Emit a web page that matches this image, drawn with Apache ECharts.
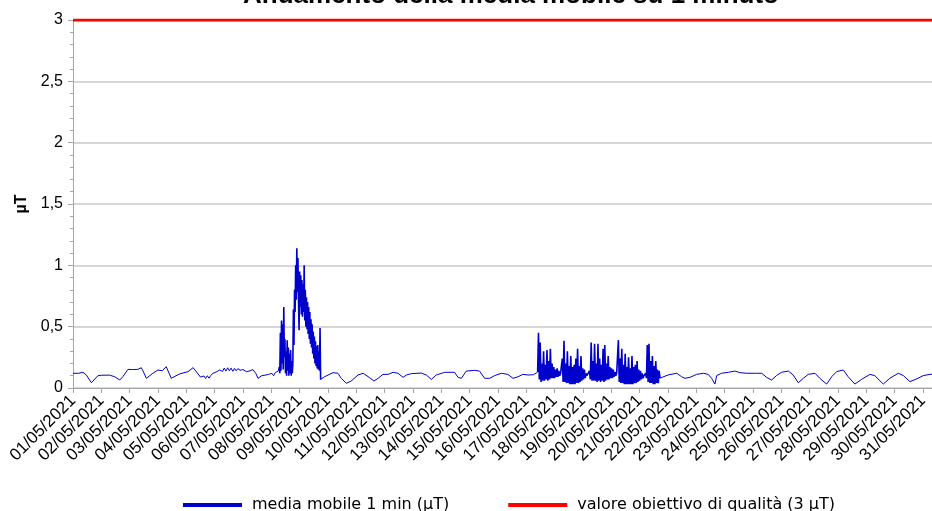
<!DOCTYPE html>
<html>
<head>
<meta charset="utf-8">
<script src="https://cdn.jsdelivr.net/npm/echarts@6/dist/echarts.min.js"></script>
<style>html,body{margin:0;padding:0;background:#fff}#c{width:932px;height:511px}</style>
</head>
<body>
<div id="c"></div>
<script>
// ---- data (days since 01/05/2021 00:00, values in µT) ----
const titleText = 'Andamento della media mobile su 1 minuto';
const seriesNames = ['media mobile 1 min (µT)', 'valore obiettivo di qualità (3 µT)'];
const dayLabels = ['01/05/2021','02/05/2021','03/05/2021','04/05/2021','05/05/2021','06/05/2021','07/05/2021','08/05/2021','09/05/2021','10/05/2021','11/05/2021','12/05/2021','13/05/2021','14/05/2021','15/05/2021','16/05/2021','17/05/2021','18/05/2021','19/05/2021','20/05/2021','21/05/2021','22/05/2021','23/05/2021','24/05/2021','25/05/2021','26/05/2021','27/05/2021','28/05/2021','29/05/2021','30/05/2021','31/05/2021'];
const yTickLabels = ['0','0,5','1','1,5','2','2,5','3'];
const qualityTarget = 3;
const visibleEndDay = 30.32;   // the picture is cut on the right during 31/05

const base1Days = [0,0.2,0.35,0.47,0.65,0.88,1.0,1.29,1.47,1.65,1.76,1.94,2.1,2.29,2.41,2.47,2.59,2.82,3.0,3.15,3.29,3.47,3.76,4.06,4.24,4.5,4.56,4.62,4.68,4.74,4.8,4.86,4.94,5.05,5.18,5.22,5.28,5.34,5.40,5.46,5.52,5.58,5.64,5.70,5.76,5.82,5.90,6.0,6.12,6.25,6.35,6.45,6.53,6.60,6.66,6.72,6.78,6.84,6.90,6.96,7.02,7.08,7.14,7.20,7.25];
const base1Vals = [0.12,0.12,0.128,0.106,0.043,0.10,0.104,0.105,0.092,0.065,0.092,0.152,0.15,0.152,0.165,0.14,0.079,0.12,0.147,0.14,0.174,0.079,0.115,0.133,0.166,0.089,0.075,0.098,0.078,0.10,0.08,0.102,0.12,0.13,0.147,0.16,0.135,0.163,0.138,0.165,0.14,0.162,0.136,0.16,0.14,0.158,0.145,0.15,0.133,0.14,0.15,0.12,0.079,0.085,0.10,0.085,0.105,0.09,0.11,0.095,0.12,0.10,0.125,0.11,0.14];

const burst1Start = 7.26, burst1Step = 0.02;
const burst1Vals = [0.14,0.17,0.12,0.45,0.14,0.55,0.20,0.52,0.15,0.66,0.25,0.40,0.12,0.30,0.10,0.39,0.14,0.33,0.10,0.28,0.12,0.31,0.10,0.22,0.12,0.20,0.64,0.35,0.80,0.62,1.00,0.72,1.14,0.78,1.06,0.70,0.47,0.95,0.66,0.92,0.60,0.88,0.58,0.85,0.62,1.00,0.55,0.80,0.50,0.74,0.48,0.70,0.44,0.66,0.40,0.62,0.36,0.56,0.33,0.52,0.28,0.46,0.24,0.42,0.20,0.38,0.18,0.34,0.16,0.35,0.15,0.30,0.14,0.49,0.07];

const base2Days = [8.74,8.88,9.18,9.35,9.47,9.65,9.82,10.06,10.24,10.47,10.62,10.77,10.94,11.12,11.30,11.47,11.65,11.77,11.94,12.29,12.47,12.65,12.82,13.12,13.47,13.59,13.71,13.88,14.18,14.35,14.53,14.71,14.88,15.12,15.35,15.53,15.71,15.88,16.06,16.25,16.37,16.40];
const base2Vals = [0.07,0.092,0.125,0.12,0.079,0.038,0.057,0.106,0.12,0.084,0.057,0.079,0.111,0.111,0.128,0.12,0.087,0.106,0.117,0.122,0.106,0.07,0.106,0.128,0.128,0.087,0.079,0.138,0.144,0.138,0.079,0.079,0.101,0.12,0.111,0.079,0.092,0.111,0.106,0.108,0.125,0.13];

const burst2Start = 16.40, burst2Step = 0.03;
const burst2Vals = [0.13,0.45,0.07,0.37,0.05,0.20,0.06,0.30,0.06,0.19,0.07,0.31,0.06,0.22,0.07,0.32,0.08,0.20,0.08,0.17,0.08,0.15,0.09,0.16,0.09,0.14,0.10,0.12,
  0.11,0.24,0.05,0.385,0.05,0.20,0.04,0.30,0.04,0.18,0.03,0.26,0.03,0.17,0.03,0.19,0.03,0.24,0.04,0.32,0.04,0.18,0.05,0.26,0.06,0.16,0.07,0.15,0.08,0.12,0.10,0.11,0.10,
  0.14,0.07,0.37,0.06,0.22,0.06,0.36,0.06,0.20,0.05,0.36,0.06,0.24,0.05,0.19,0.06,0.32,0.05,0.35,0.06,0.20,0.07,0.26,0.07,0.17,0.08,0.16,0.08,0.15,0.09,0.13,0.10,0.12,0.11,
  0.39,0.05,0.24,0.04,0.32,0.04,0.19,0.03,0.28,0.03,0.17,0.03,0.25,0.03,0.16,0.03,0.26,0.03,0.17,0.04,0.19,0.04,0.22,0.05,0.15,0.06,0.14,0.07,0.12,0.08,0.10,0.09,0.12,
  0.08,0.35,0.05,0.36,0.04,0.22,0.04,0.26,0.03,0.18,0.03,0.22,0.04,0.15,0.04,0.14,0.08];

const base3Days = [20.72,20.75,21.0,21.07,21.31,21.48,21.60,21.78,22.01,22.25,22.42,22.54,22.66,22.72,22.89,23.13,23.36,23.54,23.78,24.13,24.31,24.48,24.66,24.83,25.01,25.25,25.42,25.60,25.78,25.95,26.19,26.36,26.60,26.78,26.95,27.19,27.36,27.60,27.83,28.13,28.30,28.60,28.83,29.13,29.31,29.54,29.78,30.01,30.25,30.40];
const base3Vals = [0.08,0.08,0.106,0.111,0.12,0.092,0.079,0.087,0.111,0.12,0.111,0.079,0.032,0.101,0.12,0.128,0.138,0.125,0.12,0.12,0.12,0.087,0.065,0.101,0.128,0.138,0.106,0.043,0.079,0.111,0.12,0.079,0.032,0.092,0.133,0.147,0.092,0.032,0.07,0.111,0.101,0.032,0.079,0.12,0.101,0.052,0.074,0.101,0.111,0.115];

// ---- build series data ----
const pairs = (days, vals) => days.map((d, i) => [d, vals[i]]);
const stepPairs = (start, step, vals) => vals.map((v, i) => [+(start + i * step).toFixed(3), v]);
const baseData = [].concat(pairs(base1Days, base1Vals), [[burst1Start, burst1Vals[0]], null],
                           pairs(base2Days, base2Vals), [null],
                           pairs(base3Days, base3Vals));
const burstData = [].concat(stepPairs(burst1Start, burst1Step, burst1Vals), [null],
                            stepPairs(burst2Start, burst2Step, burst2Vals));
const redData = [[0, qualityTarget], [visibleEndDay, qualityTarget]];

const BLUE = '#0000CC', RED = '#FF0000';
const chart = echarts.init(document.getElementById('c'), null, {renderer:'canvas'});
chart.setOption({
  animation: false,
  backgroundColor: '#ffffff',
  graphic: [{
    type: 'text', x: 511, y: -17, z: 10,
    style: { text: titleText, font: 'bold 26px "Liberation Sans", Arial, sans-serif', fill: '#000',
             textAlign: 'center', align: 'center', textVerticalAlign: 'top', verticalAlign: 'top' }
  }],
  grid: { left: 73, right: 0, top: 20, bottom: 123, containLabel: false },
  legend: {
    left: 183, top: 497, padding: 0, itemWidth: 59, itemHeight: 4, itemGap: 59, icon: 'rect',
    textStyle: { fontFamily: '"DejaVu Sans", sans-serif', fontSize: 16, color: '#000', padding: [0,0,0,5] },
    data: seriesNames
  },
  xAxis: {
    type: 'value', min: 0, max: visibleEndDay, interval: 1,
    axisLine: { show: true, lineStyle: { color: '#a6a6a6', width: 1 } },
    axisTick: { show: true, inside: false, length: 5, lineStyle: { color: '#a6a6a6' } },
    splitLine: { show: false },
    axisLabel: {
      rotate: 45, margin: 10, color: '#000', fontSize: 17, fontFamily: '"Liberation Sans", Arial, sans-serif',
      showMaxLabel: false,
      formatter: v => (Number.isInteger(v) && v < dayLabels.length) ? dayLabels[v] : ''
    }
  },
  yAxis: {
    type: 'value', min: 0, max: 3, interval: 0.5,
    name: 'µT', nameLocation: 'middle', nameGap: 40, nameRotate: 90,
    nameTextStyle: { fontWeight: 'bold', fontSize: 16, color: '#000', fontFamily: '"Liberation Sans", Arial, sans-serif' },
    axisLine: { show: true, lineStyle: { color: '#a6a6a6', width: 1 } },
    axisTick: { show: true, inside: false, length: 5, lineStyle: { color: '#a6a6a6' } },
    minorTick: { show: true, splitNumber: 5, length: 3, lineStyle: { color: '#a6a6a6' } },
    splitLine: { show: true, lineStyle: { color: '#c8c8c8', width: 1.5 } },
    axisLabel: {
      color: '#000', fontSize: 16, margin: 10, fontFamily: '"Liberation Sans", Arial, sans-serif',
      formatter: v => yTickLabels[Math.round(v / 0.5)]
    }
  },
  series: [
    { name: seriesNames[0], type: 'line', data: baseData, showSymbol: false, symbol: 'none', connectNulls: false,
      lineStyle: { color: BLUE, width: 1 }, itemStyle: { color: BLUE }, sampling: null, z: 3 },
    { name: seriesNames[0], type: 'line', data: burstData, showSymbol: false, symbol: 'none', connectNulls: false,
      lineStyle: { color: BLUE, width: 1.6 }, itemStyle: { color: BLUE }, sampling: null, z: 3 },
    { name: seriesNames[1], type: 'line', data: redData, showSymbol: false, symbol: 'none',
      lineStyle: { color: RED, width: 3 }, itemStyle: { color: RED }, z: 4 }
  ]
});
</script>
</body>
</html>
